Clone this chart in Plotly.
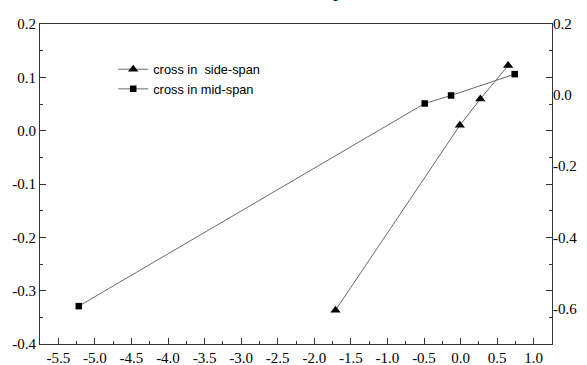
import plotly.graph_objects as go

# Data
side_x = [-1.71, -0.01, 0.27, 0.65]
side_y = [-0.605, -0.085, -0.011, 0.083]   # right axis
mid_x = [-5.22, -0.49, -0.13, 0.74]
mid_y = [-0.329, 0.051, 0.066, 0.106]      # left axis

x_ticks = [-5.5, -5.0, -4.5, -4.0, -3.5, -3.0, -2.5, -2.0, -1.5, -1.0, -0.5, 0.0, 0.5, 1.0]
x_labels = [f"{v:.1f}" for v in x_ticks]
yl_ticks = [0.2, 0.1, 0.0, -0.1, -0.2, -0.3, -0.4]
yl_labels = [f"{v:.1f}" for v in yl_ticks]
yr_ticks = [0.2, 0.0, -0.2, -0.4, -0.6]
yr_labels = [f"{v:.1f}" for v in yr_ticks]

tick_font = dict(family="Liberation Serif, Times New Roman, serif", size=15, color="black")
line_col = "#6a6a6a"

fig = go.Figure()
fig.add_trace(go.Scatter(
    x=side_x, y=side_y, yaxis="y2", mode="lines+markers",
    name="cross in\u00a0 side-span",
    line=dict(color=line_col, width=1),
    marker=dict(symbol="triangle-up", size=9, color="black"),
))
fig.add_trace(go.Scatter(
    x=mid_x, y=mid_y, mode="lines+markers",
    name="cross in mid-span",
    line=dict(color=line_col, width=1),
    marker=dict(symbol="square", size=6.5, color="black"),
))

fig.update_layout(
    template="none",
    width=587, height=365,
    margin=dict(l=40, r=35, t=24, b=21, pad=0),
    paper_bgcolor="white", plot_bgcolor="white",
    showlegend=True,
    legend=dict(
        x=0.143, y=0.905, xanchor="left", yanchor="top",
        bgcolor="rgba(0,0,0,0)", borderwidth=0,
        font=dict(family="Liberation Sans, Arial, sans-serif", size=12.8, color="black"),
        tracegroupgap=0,
    ),
    xaxis=dict(
        range=[-5.75, 1.25], autorange=False, automargin=False,
        tickvals=x_ticks, ticktext=x_labels, tickfont=tick_font,
        ticks="inside", ticklen=6, tickwidth=1, tickcolor="#333",
        minor=dict(ticks="inside", ticklen=3, dtick=0.25, tick0=0, tickcolor="#333", showgrid=False),
        showline=True, linecolor="#333", linewidth=1, mirror=True,
        showgrid=False, zeroline=False,
    ),
    yaxis=dict(
        range=[-0.4, 0.2], autorange=False, automargin=False,
        tickvals=yl_ticks, ticktext=yl_labels, tickfont=tick_font,
        ticks="inside", ticklen=6, tickwidth=1, tickcolor="#333",
        minor=dict(ticks="inside", ticklen=3, dtick=0.05, tick0=0, tickcolor="#333", showgrid=False),
        showline=True, linecolor="#333", linewidth=1, mirror="allticks",
        showgrid=False, zeroline=False,
    ),
    yaxis2=dict(
        overlaying="y", side="right",
        range=[-0.7, 0.2], autorange=False, automargin=False,
        tickvals=yr_ticks, ticktext=yr_labels, tickfont=tick_font,
        ticks="", showline=False, showgrid=False, zeroline=False,
    ),
    annotations=[dict(
        text="p", xref="paper", yref="paper", x=(338 - 40) / 512, y=1.066,
        xanchor="center", yanchor="bottom", showarrow=False,
        font=dict(family="Liberation Serif, serif", size=20, color="black"),
    )],
)

fig.write_html(
    "out.html",
    config={"displayModeBar": False},
    post_script="document.body.style.margin='0';document.body.style.overflow='hidden';",
)
